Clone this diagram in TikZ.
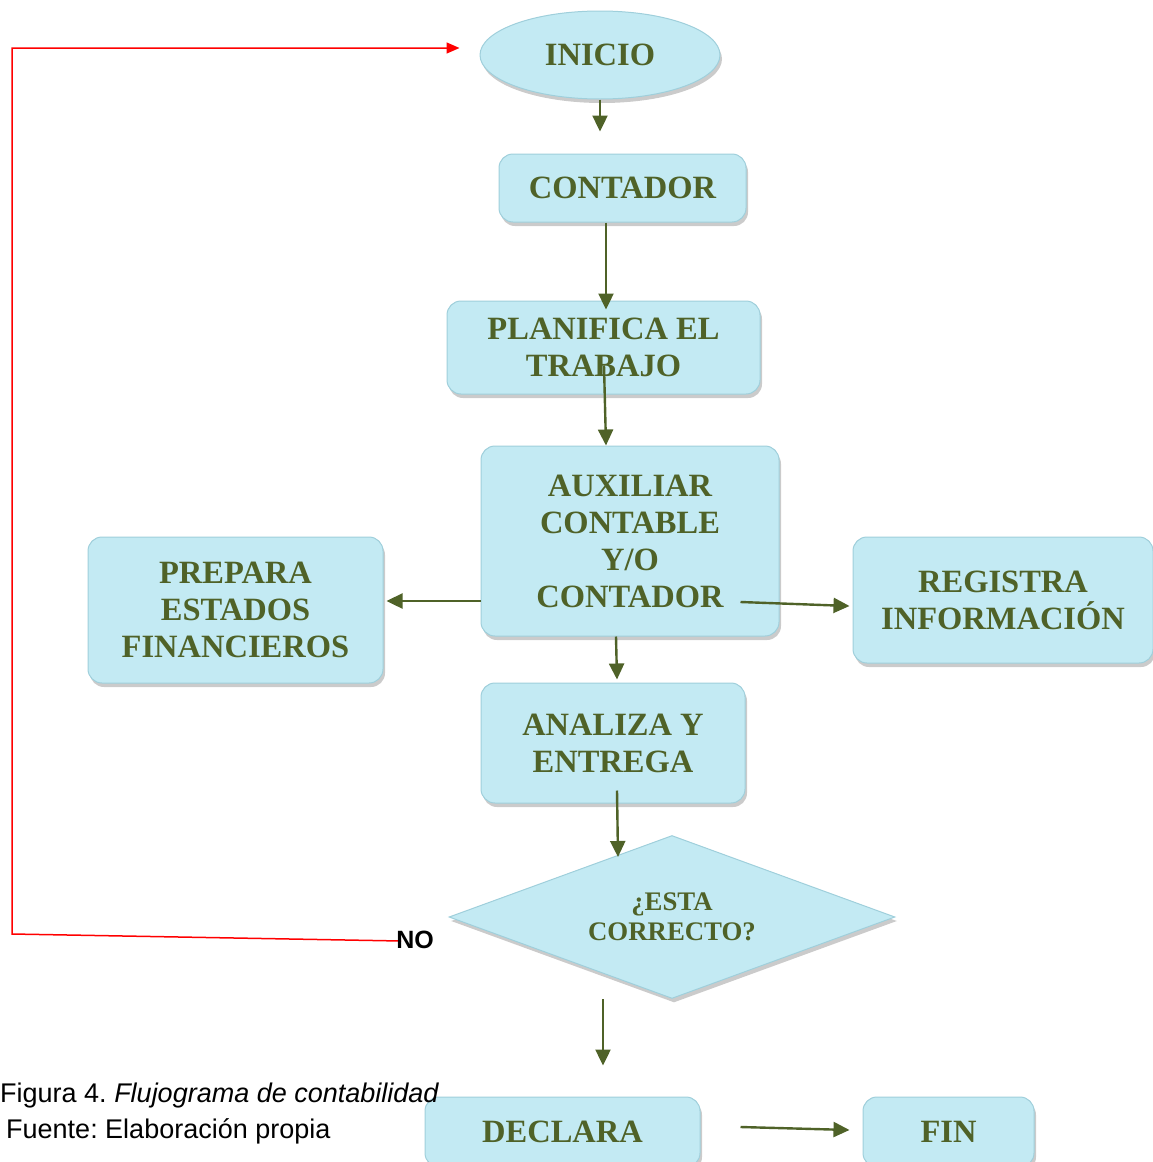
\documentclass[tikz,border=0pt]{standalone}
\usepackage{fontspec}
\setmainfont{Liberation Serif}
\newfontfamily\arialf{Liberation Sans}
\usetikzlibrary{shapes.geometric,shadows,arrows.meta,calc}
\definecolor{boxfill}{HTML}{C3EAF3}
\definecolor{boxedge}{HTML}{9FCFDB}
\definecolor{olive}{HTML}{4F6228}
\begin{document}
\frenchspacing
\begin{tikzpicture}[x=1pt,y=-1pt,
  shape shadow/.style={drop shadow={shadow xshift=2pt,shadow yshift=-4pt,fill=black!45,opacity=0.45}},
  boxstyle/.style={shape=rectangle,rounded corners=14pt,fill=boxfill,draw=boxedge,line width=1pt,
     shape shadow,text=olive,font=\fontsize{32.5}{37}\selectfont\bfseries,align=center,inner sep=0pt},
  ovalstyle/.style={shape=ellipse,fill=boxfill,draw=boxedge,line width=1pt,shape shadow,
     text=olive,font=\fontsize{32.5}{37}\selectfont\bfseries,inner sep=0pt},
  diamstyle/.style={shape=diamond,aspect=2.736,fill=boxfill,draw=boxedge,line width=1pt,shape shadow,
     text=olive,font=\fontsize{26.8}{30}\selectfont\bfseries,align=center,inner sep=0pt},
  arr/.style={draw=olive,line width=2.4pt,-{Triangle[length=16pt,width=15pt]}},
  redarr/.style={draw=red,line width=1.5pt,-{Triangle[length=13pt,width=11pt]}},
  captext/.style={font=\arialf\fontsize{27}{30}\selectfont,text=black,inner sep=0pt,anchor=base west},
]
\useasboundingbox (0,0) rectangle (1153,1162);
\clip (0,0) rectangle (1153,1162);

\node[ovalstyle,minimum width=240pt,minimum height=88pt] (inicio) at (600,55) {INICIO};
\node[boxstyle,minimum width=247pt,minimum height=68pt] (contador) at (622.5,188) {CONTADOR};
\node[boxstyle,minimum width=313pt,minimum height=93pt] (plan) at (603.5,347.5) {PLANIFICA EL\\TRABAJO};
\node[boxstyle,minimum width=298pt,minimum height=190pt] (aux) at (630,541) {AUXILIAR\\CONTABLE\\Y/O\\CONTADOR};
\node[boxstyle,minimum width=295pt,minimum height=146pt] (prep) at (235.5,610) {PREPARA\\ESTADOS\\FINANCIEROS};
\node[boxstyle,minimum width=300pt,minimum height=126pt] (reg) at (1003,600) {REGISTRA\\INFORMACIÓN};
\node[boxstyle,minimum width=264pt,minimum height=120pt] (anal) at (613,743) {ANALIZA Y\\ENTREGA};
\node[diamstyle,minimum width=446pt,minimum height=163pt] (diam) at (672,917) {¿ESTA\\CORRECTO?};
\node[boxstyle,minimum width=275pt,minimum height=70pt] (decl) at (562.5,1132) {DECLARA};
\node[boxstyle,minimum width=171pt,minimum height=70pt] (fin) at (948.5,1132) {FIN};

% red loop
\coordinate (c1) at (12,934);
\coordinate (c2) at (12,48);
\node[font=\arialf\fontsize{25}{30}\selectfont\bfseries,inner sep=0pt] (no) at (415,940) {\phantom{NO}};
\draw[redarr] ([xshift=5pt,yshift=-1pt]no.west) -- (c1) -- (c2) -- ([xshift=-20pt,yshift=7pt]inicio.west);
\node[font=\arialf\fontsize{25}{30}\selectfont\bfseries,inner sep=0pt] at (no.center) {NO};

% olive connectors
\draw[arr] (inicio.south) -- ([yshift=22pt]inicio.south |- contador.north);
\draw[arr] ([xshift=-16.5pt]contador.south) -- ([xshift=2.5pt,yshift=-9pt]plan.north);
\draw[arr] ([xshift=0.5pt,yshift=-18pt]plan.center) -- ([xshift=-24pt]aux.north);
\draw[arr] ([yshift=-60pt]aux.west) -- ([xshift=3pt,yshift=9pt]prep.east);
\draw[arr] ([xshift=-39pt,yshift=-61pt]aux.east) -- ([xshift=-3pt,yshift=-6pt]reg.west);
\draw[arr] ([xshift=-14pt]aux.south) -- ([xshift=4pt,yshift=3pt]anal.north);
\draw[arr] ([xshift=4pt,yshift=13pt]anal.south) -- ([xshift=-54pt,yshift=-22pt]diam.north);
\draw[arr] ([xshift=-69pt]diam.south) -- ([xshift=40.5pt,yshift=31pt]decl.north);
\draw[arr] ([xshift=40pt,yshift=5pt]decl.east) -- ([xshift=-13pt,yshift=2pt]fin.west);

% caption
\node[captext] (cap1) at (0,1102) {Figura 4. \textit{Flujograma de contabilidad}};
\node[captext] (cap2) at (6,1138) {Fuente: Elaboración propia};
\end{tikzpicture}
\end{document}
